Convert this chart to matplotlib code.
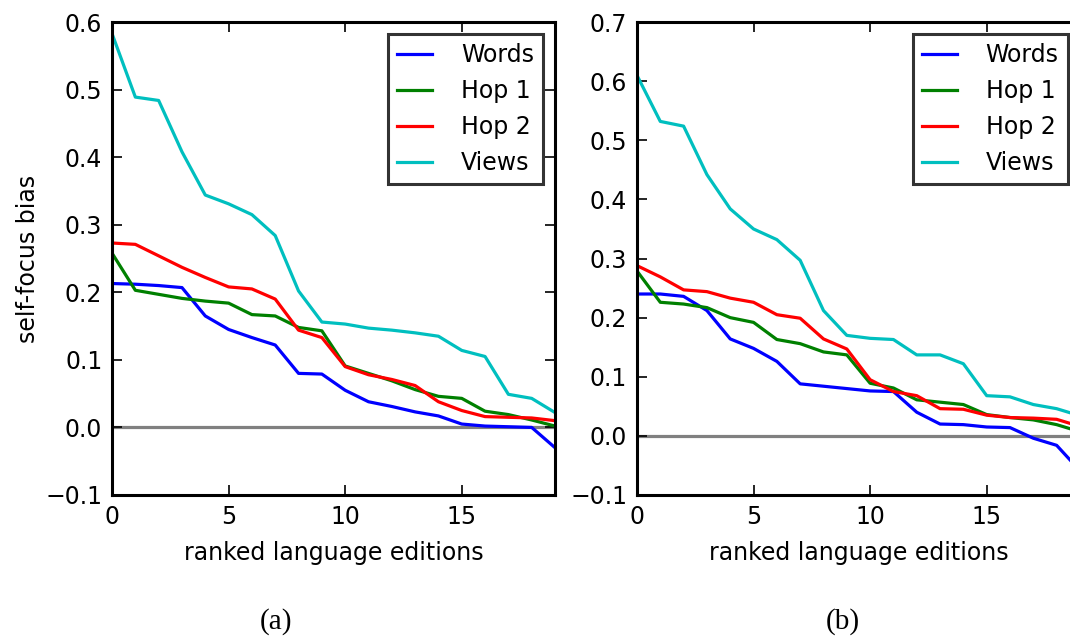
import numpy as np
import matplotlib
matplotlib.use("Agg")
import matplotlib.pyplot as plt

ranks = np.arange(20)

# (a) self-focus bias per ranked language edition
words_a = [0.213, 0.212, 0.210, 0.207, 0.165, 0.145, 0.133, 0.122, 0.080, 0.079,
           0.055, 0.038, 0.031, 0.023, 0.017, 0.005, 0.002, 0.001, 0.000, -0.030]
hop1_a = [0.258, 0.203, 0.197, 0.191, 0.187, 0.184, 0.167, 0.165, 0.148, 0.143,
          0.091, 0.080, 0.069, 0.056, 0.046, 0.043, 0.024, 0.019, 0.011, 0.002]
hop2_a = [0.273, 0.271, 0.254, 0.237, 0.222, 0.208, 0.205, 0.190, 0.144, 0.133,
          0.090, 0.078, 0.071, 0.062, 0.038, 0.025, 0.016, 0.015, 0.014, 0.010]
views_a = [0.583, 0.489, 0.484, 0.408, 0.344, 0.331, 0.315, 0.284, 0.202, 0.156,
           0.153, 0.147, 0.144, 0.140, 0.135, 0.114, 0.105, 0.049, 0.043, 0.022]

# (b)
words_b = [0.240, 0.240, 0.236, 0.212, 0.164, 0.148, 0.126, 0.088, 0.084, 0.080,
           0.076, 0.075, 0.040, 0.020, 0.019, 0.015, 0.014, -0.004, -0.016, -0.059]
hop1_b = [0.279, 0.226, 0.223, 0.217, 0.200, 0.192, 0.163, 0.156, 0.142, 0.137,
          0.089, 0.081, 0.061, 0.057, 0.053, 0.036, 0.031, 0.027, 0.019, 0.007]
hop2_b = [0.288, 0.269, 0.247, 0.244, 0.233, 0.226, 0.205, 0.199, 0.164, 0.147,
          0.095, 0.075, 0.068, 0.046, 0.045, 0.035, 0.031, 0.030, 0.028, 0.016]
views_b = [0.610, 0.532, 0.524, 0.442, 0.384, 0.350, 0.332, 0.297, 0.212, 0.170,
           0.165, 0.163, 0.137, 0.137, 0.122, 0.068, 0.066, 0.053, 0.046, 0.034]

series_names = ['Words', 'Hop 1', 'Hop 2', 'Views']
colors = ['b', 'g', 'r', 'c']

plt.rcParams['font.family'] = 'DejaVu Sans'
plt.rcParams['font.size'] = 17
plt.rcParams['axes.linewidth'] = 2.2

fig = plt.figure(figsize=(10.7, 6.39), dpi=100)
ax_a = fig.add_axes([0.1047, 0.2254, 0.414, 0.740])
ax_b = fig.add_axes([0.5953, 0.2254, 0.414, 0.740])

panels = [
    (ax_a, [words_a, hop1_a, hop2_a, views_a], (-0.1, 0.6)),
    (ax_b, [words_b, hop1_b, hop2_b, views_b], (-0.1, 0.7)),
]

for ax, data, ylim in panels:
    ax.axhline(0, color='gray', lw=2.3, zorder=1)
    for vals, name, c in zip(data, series_names, colors):
        ax.plot(ranks, vals, color=c, lw=2.3, label=name)
    ax.set_xlim(0, 19)
    ax.set_ylim(*ylim)
    ax.set_xticks([0, 5, 10, 15])
    ax.tick_params(direction='in', top=True, right=True, length=7, width=1.2,
                   labelsize=17, pad=7)
    ax.set_xlabel('ranked language editions', fontsize=17, labelpad=9)
    leg = ax.legend(loc='upper right', fontsize=17, fancybox=False,
                    handlelength=1.5, handletextpad=1.2, labelspacing=0.5,
                    borderpad=0.4, borderaxespad=0.5)
    leg.get_frame().set_edgecolor('black')
    leg.get_frame().set_linewidth(2.2)
    for line in leg.get_lines():
        line.set_linewidth(2.3)

ax_a.set_ylabel('self-focus bias', fontsize=17)

fig.text(276 / 1070, 1 - 622 / 639, '(a)', ha='center', va='center',
         fontsize=21, family='Liberation Serif')
fig.text(843 / 1070, 1 - 622 / 639, '(b)', ha='center', va='center',
         fontsize=21, family='Liberation Serif')

plt.savefig('out.png', dpi=100)
